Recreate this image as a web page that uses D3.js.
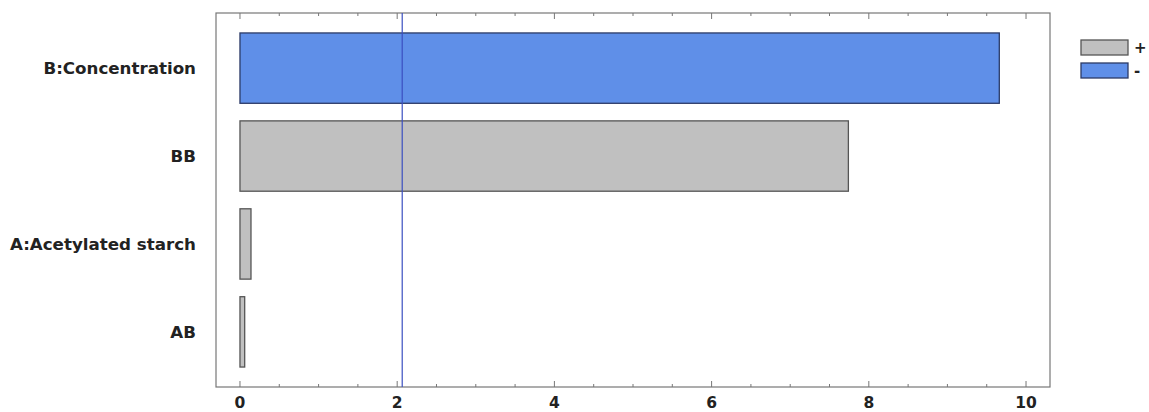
<!DOCTYPE html>
<html>
<head>
<meta charset="utf-8">
<script src="https://cdn.jsdelivr.net/npm/d3@7"></script>
<style>
  body { margin: 0; background: #fff; overflow: hidden; }
  text { font-family: "DejaVu Sans", sans-serif; font-weight: bold; fill: #222; }
</style>
</head>
<body>
<div id="chart"></div>
<script>
// effects, ordered top to bottom
var effects = ["B:Concentration", "BB", "A:Acetylated starch", "AB"];
var effectValues = [9.66, 7.74, 0.14, 0.06];
var effectSigns = ["-", "+", "+", "+"];
var criticalValue = 2.064;
var xTicks = [0, 2, 4, 6, 8, 10];
var legendLabels = ["+", "-"];

var svgWidth = 1149;
var svgHeight = 412;

var plot = { left: 216, right: 1050, top: 13, bottom: 387 };

var signColor = { "+": "#c0c0c0", "-": "#5f8fe8" };
var signStroke = { "+": "#555", "-": "#2b3a66" };

var svg = d3.select("#chart")
  .append("svg")
  .attr("width", svgWidth)
  .attr("height", svgHeight)
  .style("display", "block");

var x = d3.scaleLinear()
  .domain([-0.305, 10.305])
  .range([plot.left, plot.right]);

var y = d3.scaleBand()
  .domain(effects)
  .range([plot.top, plot.bottom])
  .paddingInner(0.2)
  .paddingOuter(0.227);

// frame
svg.append("rect")
  .attr("x", plot.left)
  .attr("y", plot.top)
  .attr("width", plot.right - plot.left)
  .attr("height", plot.bottom - plot.top)
  .attr("fill", "none")
  .attr("stroke", "#777")
  .attr("stroke-width", 1.2);

// ticks, pointing inward, top and bottom
var minorTicks = d3.range(0, 10.01, 0.5);
[plot.top, plot.bottom].forEach(function(yy) {
  var dir = yy === plot.top ? 1 : -1;
  svg.append("g").selectAll("line")
    .data(minorTicks)
    .enter()
    .append("line")
    .attr("x1", d => x(d))
    .attr("x2", d => x(d))
    .attr("y1", yy)
    .attr("y2", d => yy + dir * (d % 2 === 0 ? 6 : 3))
    .attr("stroke", "#777")
    .attr("stroke-width", 1);
});

// tick labels
svg.append("g").selectAll("text")
  .data(xTicks)
  .enter()
  .append("text")
  .attr("x", d => x(d))
  .attr("y", 408)
  .attr("text-anchor", "middle")
  .style("font-size", "15.5px")
  .text(d => d);

// bars
svg.append("g").selectAll("rect")
  .data(effects)
  .enter()
  .append("rect")
  .attr("x", x(0))
  .attr("y", d => y(d))
  .attr("width", (d, i) => x(effectValues[i]) - x(0))
  .attr("height", y.bandwidth())
  .attr("fill", (d, i) => signColor[effectSigns[i]])
  .attr("stroke", (d, i) => signStroke[effectSigns[i]])
  .attr("stroke-width", 1.3);

// category labels
svg.append("g").selectAll("text")
  .data(effects)
  .enter()
  .append("text")
  .attr("x", 196)
  .attr("y", d => y(d) + y.bandwidth() / 2)
  .attr("dy", "0.36em")
  .attr("text-anchor", "end")
  .style("font-size", "16.7px")
  .text(d => d);

// critical value line
svg.append("line")
  .attr("x1", x(criticalValue))
  .attr("x2", x(criticalValue))
  .attr("y1", plot.top)
  .attr("y2", plot.bottom)
  .attr("stroke", "#3a4fc0")
  .attr("stroke-width", 1.2);

// legend
var legend = svg.append("g").selectAll("g")
  .data(legendLabels)
  .enter()
  .append("g")
  .attr("transform", (d, i) => `translate(1081, ${40 + i * 23})`);

legend.append("rect")
  .attr("width", 47)
  .attr("height", 15)
  .attr("fill", d => signColor[d])
  .attr("stroke", d => signStroke[d])
  .attr("stroke-width", 1.3);

legend.append("text")
  .attr("x", 53)
  .attr("y", 8)
  .attr("dy", "0.36em")
  .style("font-size", "15px")
  .text(d => d);
</script>
</body>
</html>
